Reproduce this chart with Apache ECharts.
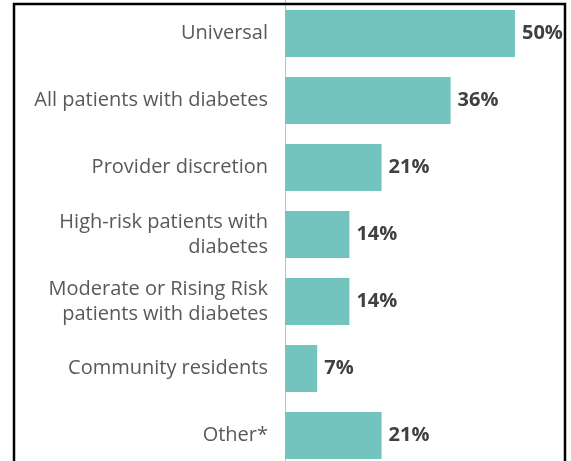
<!DOCTYPE html>
<html><head><meta charset="utf-8">
<script src="https://cdn.jsdelivr.net/npm/echarts@6/dist/echarts.min.js"></script>
<style>html,body{margin:0;padding:0;background:#fff}#c{width:571px;height:461px}</style>
</head><body><div id="c"></div>
<script>
const categories = ["Universal","All patients with diabetes","Provider discretion","High-risk patients with\ndiabetes","Moderate or Rising Risk\npatients with diabetes","Community residents","Other*"];
const values = [50,36,21,14,14,7,21];
const chart = echarts.init(document.getElementById('c'), null, {renderer:'canvas'});
chart.setOption({
  animation:false,
  graphic:[{type:'rect',shape:{x:14,y:4,width:551,height:470},style:{fill:'none',stroke:'#000',lineWidth:2.5},z:100}],
  grid:{left:285,right:10,top:0,height:469,outerBoundsMode:'none',containLabel:false},
  xAxis:{type:'value',min:0,max:60,show:false},
  yAxis:{type:'category',data:categories,inverse:true,
    axisLine:{show:true,lineStyle:{color:'#BFBFBF',width:1}},
    axisTick:{show:false},
    axisLabel:{fontFamily:'Open Sans',fontSize:20,color:'#595959',margin:17,lineHeight:25,align:'right'}},
  series:[{type:'bar',data:values,barWidth:'70%',
    itemStyle:{color:'#73C4BF'},
    label:{show:true,position:'right',distance:7,formatter:'{c}%',fontFamily:'Open Sans',fontWeight:'bold',fontSize:20,color:'#404040'}}]
});
</script></body></html>
